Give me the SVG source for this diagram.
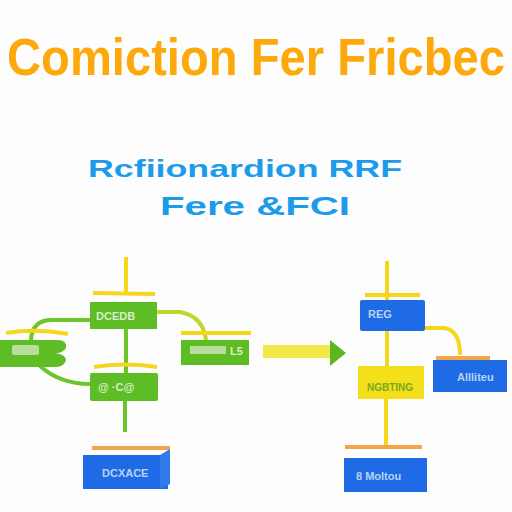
<svg xmlns="http://www.w3.org/2000/svg" width="512" height="512" viewBox="0 0 512 512">
<defs>
<style>
.title{font-family:"Liberation Sans",Arial,sans-serif;font-weight:bold;fill:#FDA90C}
.sub{font-family:"Liberation Sans",Arial,sans-serif;font-weight:bold;fill:#1C9BEA}
.lbl{font-family:"Liberation Sans",Arial,sans-serif;font-weight:bold;font-size:11px;fill:#D9EFC8}
.lblb{font-family:"Liberation Sans",Arial,sans-serif;font-weight:bold;font-size:11px;fill:#B9D3F5}
.green{fill:#5EBD25}
.blue{fill:#1F6BE6}
.yel{fill:#F4E01A}
.gl{stroke:#6CC62A;stroke-width:4;fill:none}
.yl{stroke:#F6D61A;stroke-width:4;fill:none}
.ob{stroke:#F2A64A;stroke-width:4;fill:none}
</style>
</defs>
<rect width="512" height="512" fill="#FDFDFD"/>
<text class="title" transform="translate(7,75) scale(1,1.12)" x="0" y="0" font-size="47" textLength="498" lengthAdjust="spacingAndGlyphs">Comiction Fer Fricbec</text>
<text class="sub" x="88" y="177" font-size="24" textLength="314" lengthAdjust="spacingAndGlyphs">Rcfiionardion RRF</text>
<text class="sub" x="160" y="215" font-size="25" textLength="190" lengthAdjust="spacingAndGlyphs">Fere &amp;FCI</text>
<g id="connectors">
<line class="yl" x1="126" y1="257" x2="126" y2="294"/>
<path class="yl" d="M93,293 L155,294"/>
<line class="gl" x1="126" y1="329" x2="126" y2="373"/>
<path class="gl" d="M90,320 L52,320 Q32,320 31,340"/>
<path class="gl" d="M40,366 Q60,384 90,384"/>
<path d="M157,312 L180,312 Q203,316 206,340" stroke="#BFD62A" stroke-width="4" fill="none"/>
<path class="yl" d="M6,333 Q36,328 68,334"/>
<path class="yl" d="M181,333 L251,333"/>
<path class="yl" d="M94,367 Q125,362 157,367"/>
<line class="gl" x1="125" y1="401" x2="125" y2="432"/>
<path class="ob" d="M92,448 L170,448"/>
<rect x="263" y="345" width="68" height="13" fill="#F2E84A"/>
<polygon points="330,340 346,353 330,366" fill="#5EB521"/>
<line class="yl" x1="387" y1="261" x2="387" y2="300"/>
<path class="yl" d="M365,295 L420,295"/>
<line class="yl" x1="387" y1="331" x2="387" y2="366"/>
<path class="yl" d="M425,328 L444,328 Q460,330 460,355"/>
<path class="ob" d="M436,358 L490,358" stroke-width="3"/>
<line class="yl" x1="386" y1="399" x2="386" y2="445"/>
<path class="ob" d="M345,447 L422,447"/>
</g>
<g id="n-box1">
<rect class="green" x="90" y="302" width="67" height="27"/>
<text class="lbl" x="96" y="320">DCEDB</text>
</g>
<g id="n-left">
<path class="green" d="M0,340 L58,340 Q67,340 66,348 Q63,353 56,353 Q66,355 66,360 Q64,367 56,367 L0,367 Z"/>
<rect x="12" y="345" width="27" height="10" rx="2" fill="#B8DE9E"/>
</g>
<g id="n-box3">
<rect class="green" x="181" y="340" width="68" height="25"/>
<rect x="190" y="346" width="36" height="8" fill="#B8DE9E"/>
<text class="lbl" x="230" y="355" font-size="9">L5</text>
</g>
<g id="n-box2">
<rect class="green" x="90" y="373" width="68" height="28" rx="2"/>
<text class="lbl" x="98" y="391">@ ·C@</text>
</g>
<g id="n-bottomleft">
<rect class="blue" x="83" y="455" width="85" height="34"/>
<polygon points="160,455 170,449 170,484 160,489" fill="#2F7BEA"/>
<text class="lblb" x="102" y="477">DCXACE</text>
</g>
<g id="n-reg">
<rect class="blue" x="360" y="300" width="65" height="31" rx="2"/>
<text class="lblb" x="368" y="318" font-size="10">REG</text>
</g>
<g id="n-yellow">
<rect class="yel" x="358" y="366" width="66" height="33"/>
<text x="367" y="391" font-family="Liberation Sans, Arial, sans-serif" font-weight="bold" font-size="10" fill="#79A81E">NGBTING</text>
</g>
<g id="n-right">
<rect class="blue" x="433" y="360" width="74" height="32"/>
<text class="lblb" x="457" y="381" font-size="10">Allliteu</text>
</g>
<g id="n-bottomright">
<rect class="blue" x="344" y="458" width="83" height="34"/>
<text class="lblb" x="356" y="480" font-size="13">8 Moltou</text>
</g>
</svg>
